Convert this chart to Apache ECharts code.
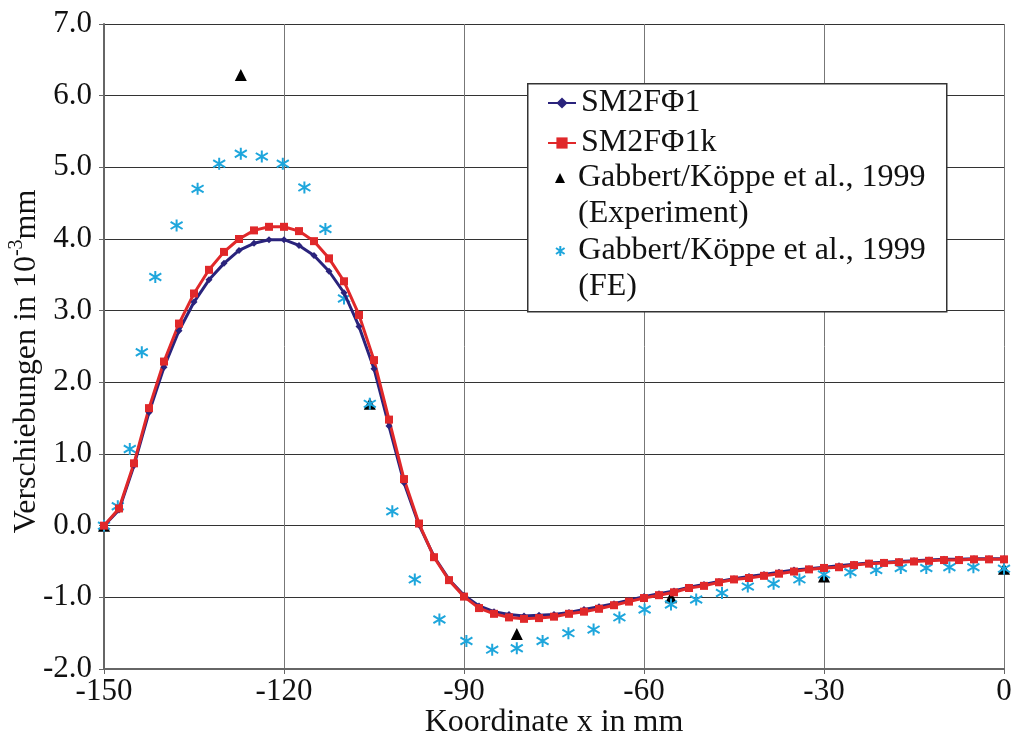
<!DOCTYPE html>
<html>
<head>
    <meta charset="utf-8" />
    <title>Verschiebungen</title>
    <script src="https://cdn.jsdelivr.net/npm/echarts@6/dist/echarts.min.js"></script>
    <style type="text/css">
        html, body { margin: 0; padding: 0; background: #fff; }
        #main { width: 1015px; height: 737px; }
    </style>
</head>
<body>
<div id="main"></div>
<script type="text/javascript">
    // Koordinaten der Modellknoten (mm)
    var xKnoten = [-150, -147.5, -145, -142.5, -140, -137.5, -135, -132.5, -130, -127.5,
        -125, -122.5, -120, -117.5, -115, -112.5, -110, -107.5, -105, -102.5,
        -100, -97.5, -95, -92.5, -90, -87.5, -85, -82.5, -80, -77.5,
        -75, -72.5, -70, -67.5, -65, -62.5, -60, -57.5, -55, -52.5,
        -50, -47.5, -45, -42.5, -40, -37.5, -35, -32.5, -30, -27.5,
        -25, -22.5, -20, -17.5, -15, -12.5, -10, -7.5, -5, -2.5, 0];

    // SM2FΦ1
    var wSM2F1 = [0, 0.22, 0.84, 1.58, 2.21, 2.72, 3.12, 3.43, 3.66, 3.84,
        3.94, 3.99, 3.99, 3.91, 3.77, 3.55, 3.25, 2.78, 2.19, 1.39,
        0.60, 0.01, -0.43, -0.75, -0.97, -1.12, -1.20, -1.24, -1.26, -1.25,
        -1.24, -1.21, -1.17, -1.13, -1.09, -1.04, -0.99, -0.95, -0.91, -0.86,
        -0.82, -0.78, -0.74, -0.71, -0.68, -0.65, -0.62, -0.60, -0.58, -0.56,
        -0.54, -0.52, -0.51, -0.50, -0.49, -0.48, -0.47, -0.47, -0.46, -0.46, -0.46];

    // SM2FΦ1k
    var wSM2F1k = [0, 0.24, 0.87, 1.64, 2.29, 2.82, 3.24, 3.57, 3.82, 4.00,
        4.12, 4.17, 4.17, 4.11, 3.97, 3.73, 3.41, 2.94, 2.31, 1.48,
        0.65, 0.03, -0.44, -0.76, -0.99, -1.15, -1.23, -1.28, -1.30, -1.29,
        -1.27, -1.23, -1.20, -1.16, -1.11, -1.06, -1.01, -0.97, -0.93, -0.87,
        -0.84, -0.79, -0.75, -0.73, -0.70, -0.67, -0.64, -0.61, -0.59, -0.58,
        -0.55, -0.53, -0.52, -0.51, -0.50, -0.49, -0.48, -0.48, -0.47, -0.47, -0.47];

    // Gabbert/Köppe et al., 1999 (Experiment)
    var xExp = [-150, -127.2, -105.7, -81.2, -55.5, -30, 0];
    var wExp = [0, 6.29, 1.70, -1.51, -1.00, -0.71, -0.60];

    // Gabbert/Köppe et al., 1999 (FE)
    var xFE = [-150, -147.7, -145.7, -143.7, -141.45, -137.9, -134.4, -130.8, -127.2, -123.7,
        -120.2, -116.6, -113.1, -110.0, -105.7, -101.95, -98.2, -94.1, -89.6, -85.3,
        -81.2, -76.9, -72.6, -68.4, -64.1, -59.9, -55.5, -51.3, -47.0, -42.7,
        -38.4, -34.1, -30.0, -25.6, -21.3, -17.2, -12.95, -9.1, -5.1, 0];
    var wFE = [0, 0.27, 1.07, 2.42, 3.47, 4.19, 4.70, 5.05, 5.19, 5.15,
        5.05, 4.72, 4.14, 3.17, 1.70, 0.20, -0.75, -1.31, -1.61, -1.73,
        -1.71, -1.61, -1.50, -1.45, -1.28, -1.17, -1.10, -1.03, -0.94, -0.85,
        -0.81, -0.75, -0.68, -0.65, -0.62, -0.59, -0.59, -0.58, -0.58, -0.60];

    var xTicks = [-150, -120, -90, -60, -30, 0];
    var yTicks = [-2, -1, 0, 1, 2, 3, 4, 5, 6, 7];

    var nameExp = 'Gabbert/Köppe et al., 1999 (Experiment)';
    var nameFE = 'Gabbert/Köppe et al., 1999 (FE)';

    function paare(xs, ys) {
        var out = [];
        for (var i = 0; i < xs.length; i++) out.push([xs[i], ys[i]]);
        return out;
    }

    var schrift = 'Liberation Serif';
    var sternchen = 'path://M5 0 L5 10 M0.7 2 L9.3 8 M0.7 8 L9.3 2';

    // Legende mit zweizeiligem Text: Symbol auf Höhe der ersten Zeile
    function legendeZweizeilig(name, zeile2, top) {
        return {
            data: [name],
            orient: 'vertical',
            left: 555,
            top: top,
            padding: 0,
            itemWidth: 10,
            itemHeight: 10,
            z: 5,
            formatter: function () {
                return '{e| }\n{t|Gabbert/Köppe et al., 1999}\n{t|' + zeile2 + '}';
            },
            textStyle: {
                fontFamily: schrift, fontSize: 32, color: '#111',
                rich: {
                    e: { fontSize: 32, lineHeight: 36 },
                    t: { fontFamily: schrift, fontSize: 32, lineHeight: 36, color: '#111', padding: [0, 0, 0, 8] }
                }
            }
        };
    }

    var myChart = echarts.init(document.getElementById('main'));

    var option = {
        animation: false,
        backgroundColor: '#fff',
        grid: { left: 104, right: 11, top: 24, bottom: 68, outerBoundsMode: 'none', containLabel: false },
        graphic: [{
            type: 'rect',
            left: 527,
            top: 83,
            z: 3,
            shape: { x: 0, y: 0, width: 419, height: 228 },
            style: { fill: '#fff', stroke: '#333', lineWidth: 1.5 }
        }],
        legend: [{
            data: ['SM2FΦ1', 'SM2FΦ1k'],
            orient: 'vertical',
            left: 547,
            top: 85,
            padding: 0,
            itemGap: 4,
            itemWidth: 28,
            itemHeight: 14,
            z: 5,
            textStyle: { fontFamily: schrift, fontSize: 32, lineHeight: 36, color: '#111' }
        },
            legendeZweizeilig(nameExp, '(Experiment)', 126),
            legendeZweizeilig(nameFE, '(FE)', 199)
        ],
        xAxis: {
            type: 'value',
            min: xTicks[0],
            max: xTicks[xTicks.length - 1],
            interval: 30,
            name: 'Koordinate x in mm',
            nameLocation: 'middle',
            nameGap: 38,
            nameMoveOverlap: false,
            nameTextStyle: { fontFamily: schrift, fontSize: 32, color: '#111' },
            axisLine: { onZero: false, lineStyle: { color: '#666', width: 2 } },
            axisTick: { show: true, length: 5, lineStyle: { color: '#666' } },
            axisLabel: { fontFamily: schrift, fontSize: 31, color: '#111', margin: 7 },
            splitLine: { show: true, lineStyle: { color: '#777', width: 1 } }
        },
        yAxis: {
            type: 'value',
            min: yTicks[0],
            max: yTicks[yTicks.length - 1],
            interval: 1,
            name: 'Verschiebungen in 10{sup|-3}mm',
            nameLocation: 'middle',
            nameRotate: 90,
            nameGap: 57,
            nameMoveOverlap: false,
            nameTextStyle: {
                fontFamily: schrift, fontSize: 32, color: '#111', lineHeight: 40,
                padding: [0, 30, 0, 0],
                rich: { sup: { fontFamily: schrift, fontSize: 20, color: '#111', verticalAlign: 'top' } }
            },
            axisLine: { show: true, onZero: false, lineStyle: { color: '#666', width: 2 } },
            axisTick: { show: true, length: 5, lineStyle: { color: '#666' } },
            axisLabel: {
                fontFamily: schrift, fontSize: 31, color: '#111', margin: 12,
                formatter: function (v) { return v.toFixed(1); }
            },
            splitLine: { show: true, lineStyle: { color: '#333', width: 1 } }
        },
        series: [{
            name: 'SM2FΦ1',
            type: 'line',
            data: paare(xKnoten, wSM2F1),
            symbol: 'diamond',
            symbolSize: 7,
            color: '#2a237c',
            lineStyle: { width: 3, color: '#2a237c' },
            itemStyle: { color: '#2a237c' }
        }, {
            name: 'SM2FΦ1k',
            type: 'line',
            data: paare(xKnoten, wSM2F1k),
            symbol: 'rect',
            symbolSize: 8,
            color: '#e0282a',
            lineStyle: { width: 3, color: '#e0282a' },
            itemStyle: { color: '#e0282a' }
        }, {
            name: nameExp,
            type: 'scatter',
            data: paare(xExp, wExp),
            symbol: 'triangle',
            symbolSize: 12,
            itemStyle: { color: '#000', opacity: 1 }
        }, {
            name: nameFE,
            type: 'scatter',
            data: paare(xFE, wFE),
            symbol: sternchen,
            symbolSize: 12,
            itemStyle: { color: 'rgba(0,0,0,0)', borderColor: '#1ea6dc', borderWidth: 2, opacity: 1 }
        }]
    };

    myChart.setOption(option);
</script>
</body>
</html>
